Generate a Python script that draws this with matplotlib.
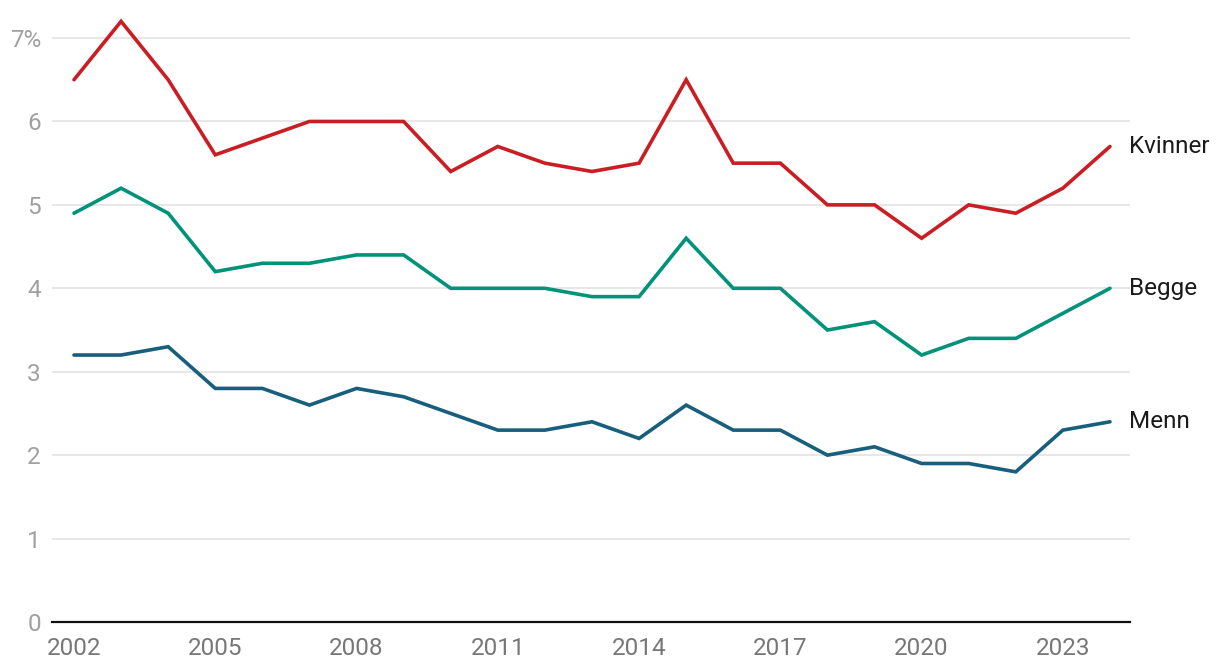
import matplotlib
matplotlib.use("Agg")
import matplotlib.pyplot as plt
from matplotlib.ticker import FuncFormatter

years = list(range(2002, 2025))
kvinner = [6.5, 7.2, 6.5, 5.6, 5.8, 6.0, 6.0, 6.0, 5.4, 5.7, 5.5, 5.4, 5.5, 6.5, 5.5, 5.5, 5.0, 5.0, 4.6, 5.0, 4.9, 5.2, 5.7]
begge = [4.9, 5.2, 4.9, 4.2, 4.3, 4.3, 4.4, 4.4, 4.0, 4.0, 4.0, 3.9, 3.9, 4.6, 4.0, 4.0, 3.5, 3.6, 3.2, 3.4, 3.4, 3.7, 4.0]
menn = [3.2, 3.2, 3.3, 2.8, 2.8, 2.6, 2.8, 2.7, 2.5, 2.3, 2.3, 2.4, 2.2, 2.6, 2.3, 2.3, 2.0, 2.1, 1.9, 1.9, 1.8, 2.3, 2.4]
series_names = ["Kvinner", "Begge", "Menn"]
colors = ["#c81e24", "#00937a", "#175f7c"]
xticks = [2002, 2005, 2008, 2011, 2014, 2017, 2020, 2023]
yticks = [0, 1, 2, 3, 4, 5, 6, 7]

plt.rcParams['font.family'] = ['Roboto', 'DejaVu Sans']

W, H = 1220, 672
fig = plt.figure(figsize=(W / 100, H / 100), dpi=100)
left, right, bottom, top = 52, 1130, 622, 13
ax = fig.add_axes([left / W, (H - bottom) / H, (right - left) / W, (bottom - top) / H])

ymax = 7.3
ax.set_ylim(0, ymax)
ax.set_xlim(2001.533, 2024.425)

for name, vals, c in zip(series_names, [kvinner, begge, menn], colors):
    ax.plot(years, vals, color=c, lw=2.6, solid_joinstyle='miter', solid_capstyle='round', zorder=3)
    ax.annotate(name, xy=(years[-1], vals[-1]), xytext=(14, 0), textcoords='offset points',
                va='center', ha='left', fontsize=17.5, color='#1a1a1a', annotation_clip=False)

ax.set_yticks(yticks)
ax.yaxis.set_major_formatter(FuncFormatter(lambda v, p: f"{int(v)}%" if v == 7 else f"{int(v)}"))
ax.set_xticks(xticks)
ax.grid(axis='y', color='#e3e3e3', lw=1.2, zorder=0)
ax.tick_params(axis='y', length=0, pad=8, labelsize=17.5, labelcolor='#a0a0a0')
ax.tick_params(axis='x', length=0, pad=11, labelsize=17.5, labelcolor='#777777')
for s in ['top', 'right', 'left']:
    ax.spines[s].set_visible(False)
ax.spines['bottom'].set_color('#111111')
ax.spines['bottom'].set_linewidth(1.6)
ax.spines['bottom'].set_zorder(4)

fig.savefig("out.png", dpi=100)
